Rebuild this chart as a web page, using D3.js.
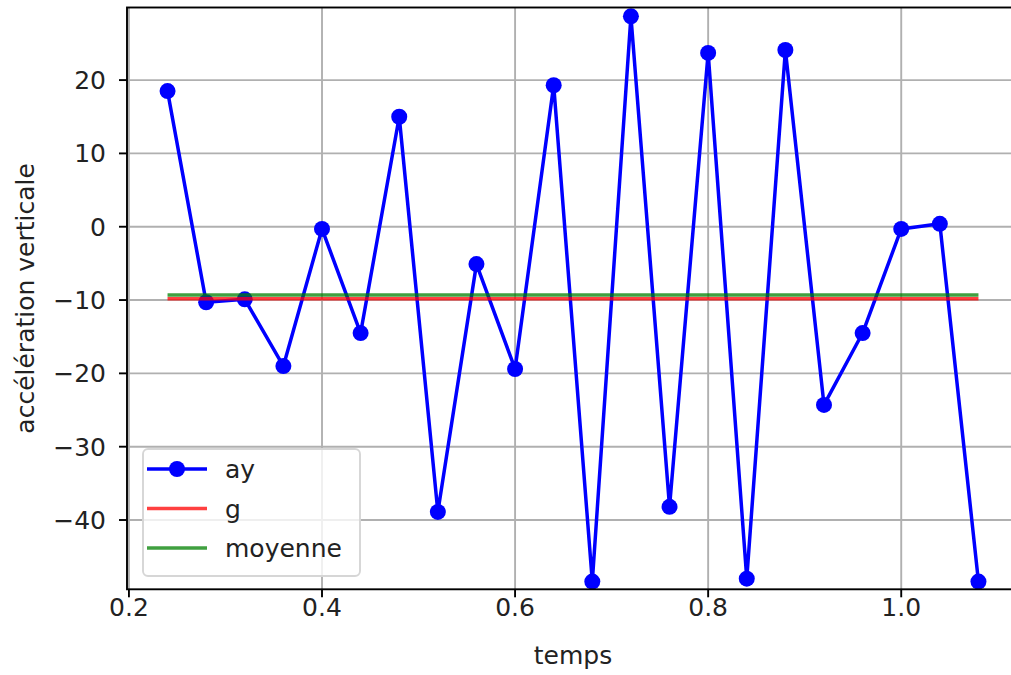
<!DOCTYPE html>
<html>
<head>
<meta charset="utf-8">
<script src="https://cdn.jsdelivr.net/npm/d3@7"></script>
<style>
  body { margin: 0; background: #fff; }
  text { font-family: "DejaVu Sans", sans-serif; fill: #222; }
</style>
</head>
<body>
<div id="chart"></div>
<script>
// data
const temps = [0.24, 0.28, 0.32, 0.36, 0.40, 0.44, 0.48, 0.52, 0.56, 0.60, 0.64,
               0.68, 0.72, 0.76, 0.80, 0.84, 0.88, 0.92, 0.96, 1.00, 1.04, 1.08];
const ay = [18.5, -10.3, -9.9, -19.0, -0.3, -14.5, 15.0, -38.9, -5.1, -19.4, 19.3,
            -48.4, 28.7, -38.2, 23.7, -48.0, 24.1, -24.3, -14.5, -0.3, 0.4, -48.4];
const g = -9.81;
const moyenne = -9.3;
const xTicks = [0.2, 0.4, 0.6, 0.8, 1.0];
const yTicks = [-40, -30, -20, -10, 0, 10, 20];

const W = 1011, H = 675;
const plot = {left: 127, right: 1019, top: 7.5, bottom: 589.3};
const fontSize = "25px";

const svg = d3.select("#chart").append("svg")
  .attr("width", W)
  .attr("height", H);

const x = d3.scaleLinear().domain([0.198, 1.122]).range([plot.left, plot.right]);
const y = d3.scaleLinear().domain([-49.45, 29.9]).range([plot.bottom, plot.top]);

svg.append("defs").append("clipPath")
  .attr("id", "clip")
  .append("rect")
  .attr("x", plot.left)
  .attr("y", plot.top)
  .attr("width", plot.right - plot.left)
  .attr("height", plot.bottom - plot.top);

// grid
svg.append("g").selectAll("line")
  .data(xTicks)
  .enter().append("line")
  .attr("x1", d => x(d)).attr("x2", d => x(d))
  .attr("y1", plot.top).attr("y2", plot.bottom)
  .attr("stroke", "#b0b0b0")
  .attr("stroke-width", 1.9);

svg.append("g").selectAll("line")
  .data(yTicks)
  .enter().append("line")
  .attr("x1", plot.left).attr("x2", plot.right)
  .attr("y1", d => y(d)).attr("y2", d => y(d))
  .attr("stroke", "#b0b0b0")
  .attr("stroke-width", 1.9);

const data = temps.map((t, i) => ({t: t, ay: ay[i]}));
const marks = svg.append("g").attr("clip-path", "url(#clip)");

const lineAy = d3.line()
  .x(d => x(d.t))
  .y(d => y(d.ay));

marks.append("path")
  .datum(data)
  .attr("fill", "none")
  .attr("stroke", "#0000ff")
  .attr("stroke-width", 3.5)
  .attr("stroke-linejoin", "round")
  .attr("d", lineAy);

marks.selectAll(".pt")
  .data(data)
  .enter().append("circle")
  .attr("class", "pt")
  .attr("cx", d => x(d.t))
  .attr("cy", d => y(d.ay))
  .attr("r", 8)
  .attr("fill", "#0000ff");

const lineConst = v => d3.line()
  .x(d => x(d.t))
  .y(d => y(v));

marks.append("path")
  .datum(data)
  .attr("fill", "none")
  .attr("stroke", "#ff0000")
  .attr("stroke-opacity", 0.75)
  .attr("stroke-width", 3.5)
  .attr("d", lineConst(g));

marks.append("path")
  .datum(data)
  .attr("fill", "none")
  .attr("stroke", "#008000")
  .attr("stroke-opacity", 0.75)
  .attr("stroke-width", 3.5)
  .attr("d", lineConst(moyenne));

// spines
svg.append("rect")
  .attr("x", plot.left)
  .attr("y", plot.top)
  .attr("width", plot.right - plot.left)
  .attr("height", plot.bottom - plot.top)
  .attr("fill", "none")
  .attr("stroke", "#000")
  .attr("stroke-width", 1.9);

// ticks
const xAxis = svg.append("g");
xAxis.selectAll("line")
  .data(xTicks)
  .enter().append("line")
  .attr("x1", d => x(d)).attr("x2", d => x(d))
  .attr("y1", plot.bottom).attr("y2", plot.bottom + 8)
  .attr("stroke", "#000")
  .attr("stroke-width", 1.9);
xAxis.selectAll("text")
  .data(xTicks)
  .enter().append("text")
  .attr("x", d => x(d))
  .attr("y", 616)
  .attr("text-anchor", "middle")
  .style("font-size", fontSize)
  .text(d => d3.format(".1f")(d));

const yAxis = svg.append("g");
yAxis.selectAll("line")
  .data(yTicks)
  .enter().append("line")
  .attr("x1", plot.left - 8).attr("x2", plot.left)
  .attr("y1", d => y(d)).attr("y2", d => y(d))
  .attr("stroke", "#000")
  .attr("stroke-width", 1.9);
yAxis.selectAll("text")
  .data(yTicks)
  .enter().append("text")
  .attr("x", 106)
  .attr("y", d => y(d))
  .attr("dy", "0.36em")
  .attr("text-anchor", "end")
  .style("font-size", fontSize)
  .text(d => d < 0 ? "\u2212" + Math.abs(d) : d);

svg.append("text")
  .attr("x", (plot.left + plot.right) / 2)
  .attr("y", 664)
  .attr("text-anchor", "middle")
  .style("font-size", fontSize)
  .text("temps");

svg.append("text")
  .attr("text-anchor", "middle")
  .attr("transform", `translate(34,${(plot.top + plot.bottom) / 2})rotate(-90)`)
  .style("font-size", fontSize)
  .text("accélération verticale");

// legend
const legend = svg.append("g");
legend.append("rect")
  .attr("x", 143).attr("y", 449)
  .attr("width", 217).attr("height", 127)
  .attr("rx", 5)
  .attr("fill", "#fff")
  .attr("fill-opacity", 0.8)
  .attr("stroke", "#d6d6d6")
  .attr("stroke-width", 1.9);

const legendItems = [
  {label: "ay", color: "#0000ff", opacity: 1, marker: true},
  {label: "g", color: "#ff0000", opacity: 0.75, marker: false},
  {label: "moyenne", color: "#008000", opacity: 0.75, marker: false}
];

legendItems.forEach((d, i) => {
  const ly = 469 + i * 39.5;
  legend.append("line")
    .attr("x1", 147).attr("x2", 207)
    .attr("y1", ly).attr("y2", ly)
    .attr("stroke", d.color)
    .attr("stroke-opacity", d.opacity)
    .attr("stroke-width", 3.5);
  if (d.marker) {
    legend.append("circle")
      .attr("cx", 177).attr("cy", ly)
      .attr("r", 8)
      .attr("fill", d.color);
  }
  legend.append("text")
    .attr("x", 225)
    .attr("y", ly + 9)
    .style("font-size", fontSize)
    .text(d.label);
});
</script>
</body>
</html>
